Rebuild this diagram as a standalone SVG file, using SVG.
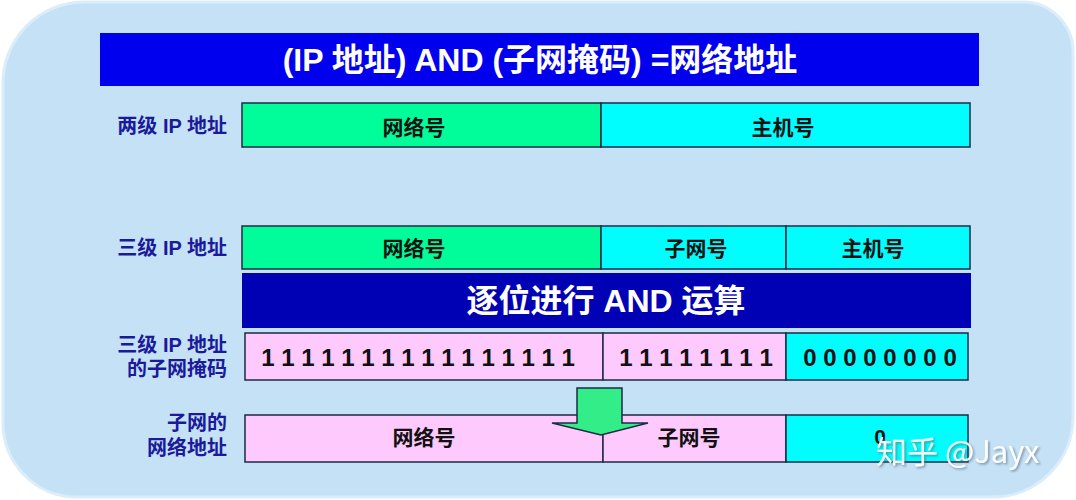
<svg xmlns="http://www.w3.org/2000/svg" width="1076" height="500" viewBox="0 0 1076 500">
<defs>
<style>
.lbl{font-family:"Liberation Sans","Noto Sans CJK SC",sans-serif;font-weight:bold;font-size:20px;fill:#1a1a9a;text-anchor:end;dominant-baseline:central}
.bt{font-family:"Liberation Sans","Noto Sans CJK SC",sans-serif;font-weight:bold;font-size:21px;fill:#111;text-anchor:middle;dominant-baseline:central}
.dg{font-family:"Liberation Sans","Noto Sans CJK SC",sans-serif;font-weight:bold;font-size:24px;fill:#111;text-anchor:middle;dominant-baseline:central}
.hd{font-family:"Liberation Sans","Noto Sans CJK SC",sans-serif;font-weight:bold;font-size:32px;fill:#fff;text-anchor:middle;dominant-baseline:central}
.bx{stroke:#1d2b45;stroke-width:1.5}
.g{fill:#00fd99}.c{fill:#00fefe}.p{fill:#fecafd}
</style>
<filter id="sh" x="-5%" y="-20%" width="115%" height="150%">
<feDropShadow dx="1.5" dy="1.5" stdDeviation="1" flood-color="#5a6a78" flood-opacity="0.7"/>
</filter>
</defs>
<rect width="1076" height="500" fill="#fff"/>
<path d="M83,2 H1023 A50,50 0 0 1 1073,52 V418 A80,80 0 0 1 993,497 H76 A74,74 0 0 1 3,423 V84 A81,81 0 0 1 83,2 Z" fill="#c4e1f6" stroke="#dcedfa" stroke-width="3"/>
<g id="title"><rect x="100" y="33" width="879" height="53" fill="#0000ee"/><text class="hd" x="540" y="60">(IP 地址) AND (子网掩码) =网络地址</text></g>
<g id="row1">
<text class="lbl" x="227" y="126">两级 IP 地址</text>
<rect class="bx g" x="242" y="103" width="359" height="44"/><text class="bt" x="414" y="127">网络号</text>
<rect class="bx c" x="601" y="103" width="369" height="44"/><text class="bt" x="783" y="127">主机号</text>
</g>
<g id="row2">
<text class="lbl" x="227" y="248">三级 IP 地址</text>
<rect class="bx g" x="242" y="226" width="359" height="43"/><text class="bt" x="414" y="248">网络号</text>
<rect class="bx c" x="601" y="226" width="185" height="43"/><text class="bt" x="696" y="248">子网号</text>
<rect class="bx c" x="786" y="226" width="184" height="43"/><text class="bt" x="873" y="248">主机号</text>
</g>
<g id="andbar"><rect x="242" y="273" width="729" height="55" fill="#0000b4"/><text class="hd" x="606" y="301">逐位进行 AND 运算</text></g>
<g id="row4">
<text class="lbl" x="227" y="345">三级 IP 地址</text>
<text class="lbl" x="227" y="369">的子网掩码</text>
<rect class="bx p" x="245" y="333" width="358" height="47"/><text class="dg" x="418" y="357">1 1 1 1 1 1 1 1 1 1 1 1 1 1 1 1</text>
<rect class="bx p" x="603" y="333" width="183" height="47"/><text class="dg" x="696" y="357">1 1 1 1 1 1 1 1</text>
<rect class="bx c" x="786" y="333" width="182" height="47"/><text class="dg" x="880" y="357">0 0 0 0 0 0 0 0</text>
</g>
<g id="row5">
<text class="lbl" x="227" y="423">子网的</text>
<text class="lbl" x="227" y="448">网络地址</text>
<rect class="bx p" x="245" y="415" width="358" height="47"/><text class="bt" x="424" y="437">网络号</text>
<rect class="bx p" x="603" y="415" width="183" height="47"/><text class="bt" x="689" y="437">子网号</text>
<rect class="bx c" x="786" y="415" width="182" height="47"/><text class="bt" x="880" y="436">0</text>
</g>
<g id="connectors">
<path d="M577,388 H622 V423 H648 L601,435 L552,423 H577 Z" fill="#33ee88" stroke="#1d2b45" stroke-width="1.5"/>
</g>
<g id="watermark">
<text x="876" y="463" font-family="'Noto Sans CJK SC','Liberation Sans',sans-serif" font-size="31" fill="#ffffff" opacity="0.92" filter="url(#sh)">知乎 @Jayx</text>
</g>
</svg>
